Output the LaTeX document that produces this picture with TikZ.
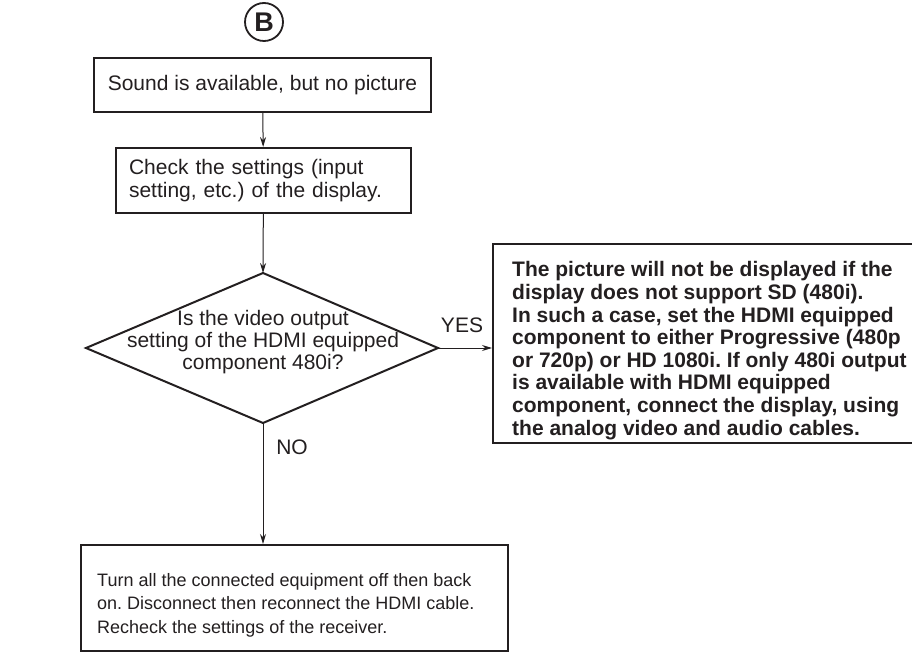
\documentclass[tikz,border=0pt]{standalone}
\usepackage{fontspec}
\setmainfont{Liberation Sans}
\usetikzlibrary{arrows.meta}
\definecolor{ink}{HTML}{231F20}
\frenchspacing
\begin{document}
\begin{tikzpicture}[x=1pt,y=-1pt,
  box/.style={draw=ink, line width=2pt, inner sep=0pt},
  txt/.style={font=\fontsize{21}{23.4}\selectfont, text=ink, inner sep=0pt},
  arr/.style={draw=ink, line width=1pt, -{Stealth[length=10pt,width=6pt]}},
  edge/.style={draw=ink, line width=2pt, line join=miter},
]
\useasboundingbox (0,0) rectangle (912,652);
\clip (0,0) rectangle (912,652);

% start marker
\node[circle, draw=ink, line width=1.8pt, minimum size=38pt, inner sep=0pt,
      text=ink, font=\fontsize{27}{27}\selectfont\bfseries] (B) at (264,22) {B};

% step 1
\node[box, txt, minimum width=337pt, minimum height=54pt] (s1) at (262.5,85)
  {Sound is available, but no picture};

% step 2
\node[box, txt, minimum width=295pt, minimum height=65pt, text width=269pt, align=left]
  (s2) at (263.5,180.5) {Check the settings (input\\setting, etc.) of the display.};

% decision
\coordinate (dT) at (263,273);
\coordinate (dR) at (438,348);
\coordinate (dB) at (263,423);
\coordinate (dL) at (86,348);
\draw[edge] (dT) -- (dR) -- (dB) -- (dL) -- cycle;
\node[txt, align=center, font=\fontsize{21}{22}\selectfont] (q) at (263,342)
  {Is the video output\\setting of the HDMI equipped\\component 480i?};

% answer box (YES)
\node[box, anchor=north west, minimum width=430pt, minimum height=199pt] (ansbox) at (492,243) {};
\node[txt, anchor=base west, align=left, font=\fontsize{21}{22.6}\selectfont\bfseries]
  (ans) at (512,435)
  {The picture will not be displayed if the\\
   display does not support SD (480i).\\
   In such a case, set the HDMI equipped\\
   component to either Progressive (480p\\
   or 720p) or HD 1080i. If only 480i output\\
   is available with HDMI equipped\\
   component, connect the display, using\\
   the analog video and audio cables.};

% final box (NO)
\node[box, anchor=north west, minimum width=427pt, minimum height=106pt] (s3box) at (80,544) {};
\node[txt, anchor=base west, align=left, font=\fontsize{18}{23.5}\selectfont]
  (s3) at (97,633)
  {Turn all the connected equipment off then back\\
   on. Disconnect then reconnect the HDMI cable.\\
   Recheck the settings of the receiver.};

% labels
\node[txt] (yes) at (462,325) {YES};
\node[txt] (no) at (292,447) {NO};

% connectors
\draw[arr] (s1) -- (s2);
\draw[arr] (s2) -- (dT);
\draw[arr] (dR) -- (dR -| ansbox.west);
\draw[arr] (dB) -- (dB |- s3box.north);
\end{tikzpicture}
\end{document}
